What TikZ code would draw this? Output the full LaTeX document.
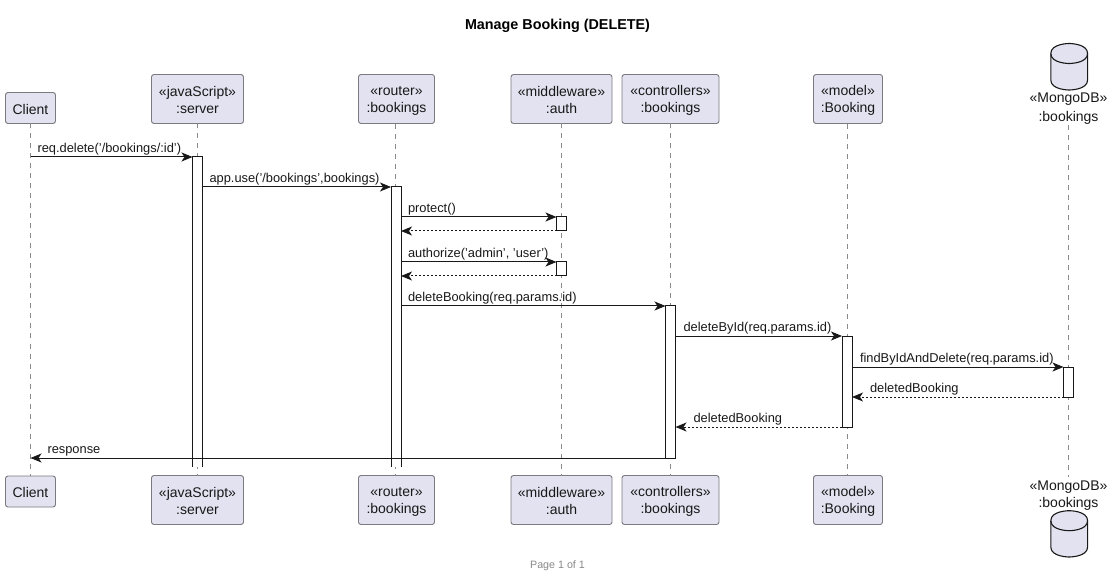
\documentclass[tikz,border=0pt]{standalone}
\usepackage{fontspec}
\setmainfont{Liberation Sans}
\usetikzlibrary{arrows.meta,calc}
\definecolor{boxfill}{HTML}{E2E2F0}
\definecolor{ink}{HTML}{181818}
\definecolor{boxline}{HTML}{7A7A80}
\definecolor{lifeline}{HTML}{8A8A8A}
\definecolor{footgray}{HTML}{888888}
\newcommand\headstrut{\rule{0pt}{12.6pt}}
\tikzset{
  part/.style={draw=boxline,line width=0.9pt,fill=boxfill,rounded corners=2.5pt,inner sep=0pt,outer sep=0pt,align=center,
    text=ink,font=\fontsize{14}{17.5}\selectfont},
  dbtext/.style={inner sep=0pt,outer sep=0pt,align=center,text=ink},
  life/.style={draw=lifeline,line width=0.8pt,dash pattern=on 5pt off 5pt},
  act/.style={draw=ink,line width=1pt,fill=white,inner sep=0pt,outer sep=0pt,minimum width=10pt},
  actopen/.style={fill=white,inner sep=0pt,outer sep=0pt,minimum width=10pt},
  msg/.style={draw=ink,line width=1pt,-{Stealth[length=11pt,width=9pt,inset=3pt]}},
  ret/.style={msg,dash pattern=on 2pt off 2pt},
  lbl/.style={inner sep=0pt,outer sep=0pt,text=ink,font=\fontsize{12.85}{15}\selectfont,anchor=base west,yshift=4.5pt},
  cyl/.style={draw=ink,line width=1.1pt,fill=boxfill},
}
\begin{document}
\begin{tikzpicture}[x=1pt,y=-1pt]
\useasboundingbox (0,0) rectangle (1111,577);
% title and footer
\node[inner sep=0pt,font=\bfseries\fontsize{14.35}{17}\selectfont,text=black] (title) at (557.5,26) {Manage Booking (DELETE)};
\node[inner sep=0pt,font=\fontsize{10.7}{12}\selectfont,text=footgray] (footer) at (557.5,565.5) {Page 1 of 1};
% participants, top
\node[part,minimum width=50pt,minimum height=31pt] (cT) at (30.5,108) {\headstrut Client};
\node[part,minimum width=92pt,minimum height=49pt] (sT) at (197.5,99) {\headstrut «javaScript»\\:server};
\node[part,minimum width=76pt,minimum height=49pt] (rT) at (396.5,99) {\headstrut «router»\\:bookings};
\node[part,minimum width=101pt,minimum height=49pt] (aT) at (561.5,99) {\headstrut «middleware»\\:auth};
\node[part,minimum width=97pt,minimum height=49pt] (kT) at (670.5,99) {\headstrut «controllers»\\:bookings};
\node[part,minimum width=69pt,minimum height=49pt] (mT) at (848,99) {\headstrut «model»\\:Booking};
% participants, bottom
\node[part,minimum width=50pt,minimum height=31pt] (cB) at (30.5,491.5) {\headstrut Client};
\node[part,minimum width=92pt,minimum height=49pt] (sB) at (197.5,500) {\headstrut «javaScript»\\:server};
\node[part,minimum width=76pt,minimum height=49pt] (rB) at (396.5,500) {\headstrut «router»\\:bookings};
\node[part,minimum width=101pt,minimum height=49pt] (aB) at (561.5,500) {\headstrut «middleware»\\:auth};
\node[part,minimum width=97pt,minimum height=49pt] (kB) at (670.5,500) {\headstrut «controllers»\\:bookings};
\node[part,minimum width=69pt,minimum height=49pt] (mB) at (848,500) {\headstrut «model»\\:Booking};
% database
\draw[cyl] (1050.8,53.5) .. controls (1050.8,43.5) and (1069.2,43.5) .. (1069.2,43.5)
  .. controls (1069.2,43.5) and (1087.6,43.5) .. (1087.6,53.5)
  -- (1087.6,80) .. controls (1087.6,90) and (1069.2,90) .. (1069.2,90)
  .. controls (1069.2,90) and (1050.8,90) .. (1050.8,80) -- cycle;
\draw[cyl,fill=none] (1050.8,53.5) .. controls (1050.8,63.5) and (1069.2,63.5) .. (1069.2,63.5)
  .. controls (1069.2,63.5) and (1087.6,63.5) .. (1087.6,53.5);
\draw[cyl] (1050.8,520.7) .. controls (1050.8,510.7) and (1069.2,510.7) .. (1069.2,510.7)
  .. controls (1069.2,510.7) and (1087.6,510.7) .. (1087.6,520.7)
  -- (1087.6,547) .. controls (1087.6,557) and (1069.2,557) .. (1069.2,557)
  .. controls (1069.2,557) and (1050.8,557) .. (1050.8,547) -- cycle;
\draw[cyl,fill=none] (1050.8,520.7) .. controls (1050.8,530.7) and (1069.2,530.7) .. (1069.2,530.7)
  .. controls (1069.2,530.7) and (1087.6,530.7) .. (1087.6,520.7);
\node[dbtext,font=\fontsize{14}{19}\selectfont] (dT) at (1068.5,109) {«MongoDB»\\:bookings};
\node[dbtext,font=\fontsize{14}{17}\selectfont] (dB) at (1068.5,495.5) {«MongoDB»\\:bookings};
\coordinate (dTl) at (1068.5,125);
\coordinate (dBl) at (1068.5,477);
% lifelines
\draw[life] (cT.south) -- (cB.north);
\draw[life] (sT.south) -- (sB.north);
\draw[life] (395.5,124) coordinate (rTl) -- (395.5,475) coordinate (rBl);
\draw[life] (aT.south) -- (aB.north);
\draw[life] (kT.south) -- (kB.north);
\draw[life] (847.5,124) coordinate (mTl) -- (847.5,475) coordinate (mBl);
\draw[life] (dTl) -- (dBl);
% activation bars
\node[actopen,minimum height=310pt] (sA) at (197.5,312) {};
\draw[ink,line width=1pt] (sA.south west) -- (sA.north west) -- (sA.north east) -- (sA.south east);
\node[actopen,minimum height=280pt] (rA) at (396,327) {};
\draw[ink,line width=1pt] (rA.south west) -- (rA.north west) -- (rA.north east) -- (rA.south east);
\node[act,minimum height=14pt] (a1) at (561.5,224) {};
\node[act,minimum height=14pt] (a2) at (561.5,269) {};
\node[act,minimum height=152pt] (kA) at (670.5,382) {};
\node[act,minimum height=91pt] (mA) at (847,381.5) {};
\node[act,minimum height=30pt] (dA) at (1068.5,382) {};
% messages
\draw[msg] (cT.south |- sA.north) -- (sA.north west)
  node[lbl,pos=0,xshift=7pt] {req.delete('/bookings/:id')};
\draw[msg] (sA.east |- rA.north) -- (rA.north west)
  node[lbl,pos=0,xshift=7pt] {app.use('/bookings',bookings)};
\draw[msg] (rA.east |- a1.north) -- (a1.north west)
  node[lbl,pos=0,xshift=7pt] {protect()};
\draw[ret] (a1.south west) -- (rA.east |- a1.south);
\draw[msg] (rA.east |- a2.north) -- (a2.north west)
  node[lbl,pos=0,xshift=7pt] {authorize('admin', 'user')};
\draw[ret] (a2.south west) -- (rA.east |- a2.south);
\draw[msg] (rA.east |- kA.north) -- (kA.north west)
  node[lbl,pos=0,xshift=7pt] {deleteBooking(req.params.id)};
\draw[msg] (kA.east |- mA.north) -- (mA.north west)
  node[lbl,pos=0,xshift=8pt] {deleteById(req.params.id)};
\draw[msg] (mA.east |- dA.north) -- (dA.north west)
  node[lbl,pos=0,xshift=8pt] {findByIdAndDelete(req.params.id)};
\draw[ret] (dA.south west) -- (mA.east |- dA.south)
  node[lbl,pos=1,xshift=18pt] {deletedBooking};
\draw[ret] (mA.south west) -- (kA.east |- mA.south)
  node[lbl,pos=1,xshift=18pt] {deletedBooking};
\draw[msg] (kA.south west) -- (cT.south |- kA.south)
  node[lbl,pos=1,xshift=17pt] {response};
\end{tikzpicture}
\end{document}
